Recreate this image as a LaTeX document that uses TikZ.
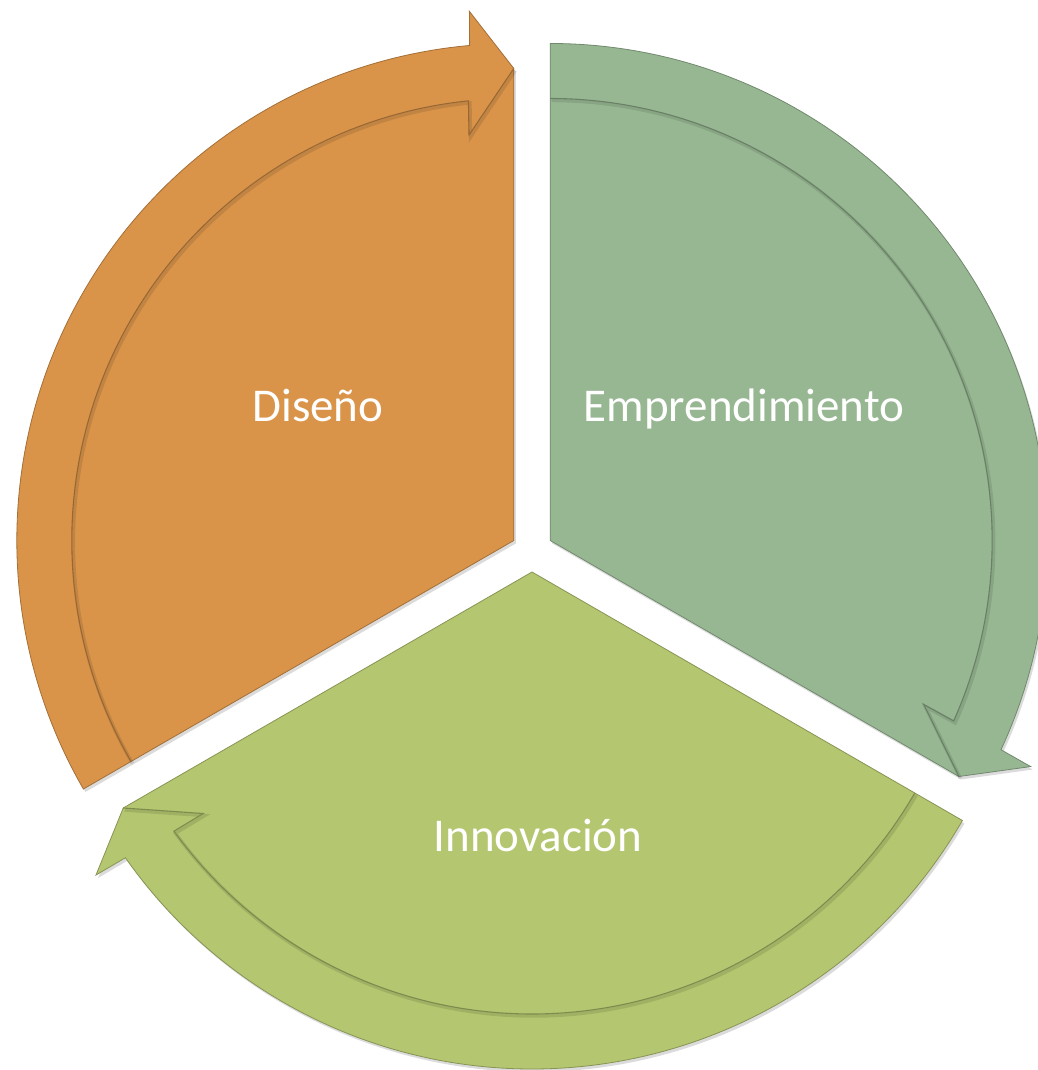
\documentclass[tikz,border=0pt]{standalone}
\usepackage{fontspec}
\setmainfont{Carlito}
\usetikzlibrary{calc}

\definecolor{diseno}{RGB}{217,148,74}
\definecolor{empre}{RGB}{151,183,146}
\definecolor{innova}{RGB}{180,198,112}

\begin{document}
\begin{tikzpicture}[
  x=1pt, y=1pt,
  segment/.style={fill=#1, draw=#1!75!black, line width=0.8pt, line join=miter,
    preaction={fill=black, opacity=0.14, transform canvas={shift={(2pt,-3pt)}}}},
  groove/.style={draw=#1!70!black, line width=1.1pt, line join=miter},
  groove shadow/.style={draw=black, opacity=0.10, line width=3.5pt},
  segtext/.style={text=white, inner sep=0, anchor=base, font=\fontsize{47}{56}\selectfont}
]
\useasboundingbox (0,0) rectangle (1037,1070);

% centre of the cycle, each segment pushed out along its bisector
\coordinate (c) at (532,519);

\foreach \nm/\b/\col in {dis/150/diseno, emp/30/empre, inn/270/innova}{
  \pgfmathsetmacro{\t}{\b-60}
  \coordinate (\nm) at ($(c)+(\b:21)$);
  \begin{scope}[shift={(\nm)}]
    \path[segment=\col] (0,0) -- (\t:472) -- ({\t+4.8}:531) -- ({\t+5.1}:497)
      arc[start angle=\t+5.1, end angle=\t+120, radius=497pt] -- cycle;
    \draw[groove shadow, shift={(1.5,-2)}] ({\t+120}:442)
      arc[start angle=\t+120, end angle=\t+5.9, radius=442pt] -- ({\t+6.3}:408) -- (\t:472);
    \draw[groove=\col] ({\t+120}:442)
      arc[start angle=\t+120, end angle=\t+5.9, radius=442pt] -- ({\t+6.3}:408) -- (\t:472);
  \end{scope}
}

\node[segtext] (dis-text) at (318,648) {Diseño};
\node[segtext] (emp-text) at (744,648) {Emprendimiento};
\node[segtext] (inn-text) at (538,218) {Innovación};

\end{tikzpicture}
\end{document}
